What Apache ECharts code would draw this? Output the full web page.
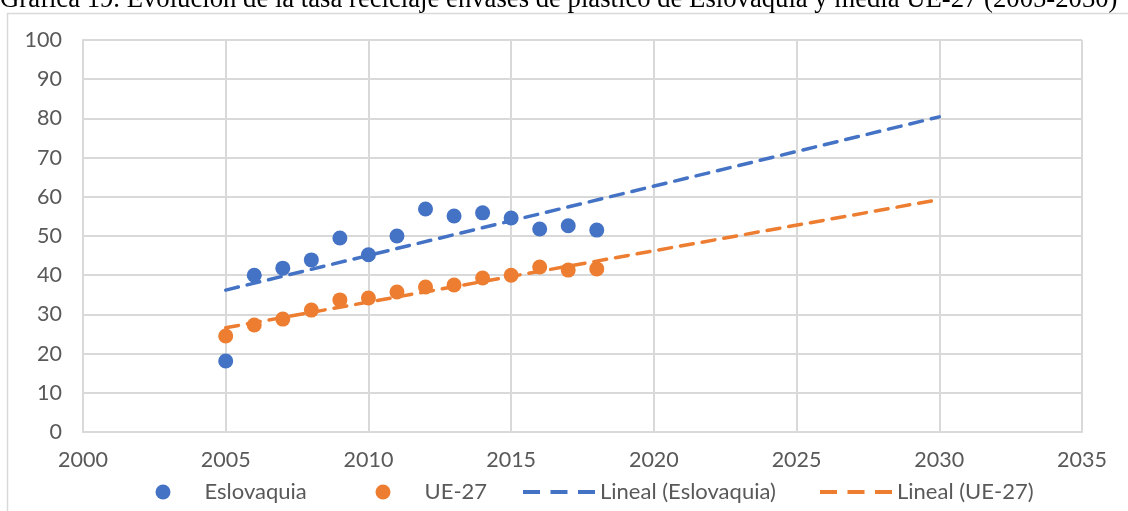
<!DOCTYPE html>
<html>
<head>
<meta charset="utf-8">
<script src="https://cdn.jsdelivr.net/npm/echarts@6/dist/echarts.min.js"></script>
<style>
  body, html { margin: 0; padding: 0; width: 100%; height: 100%; overflow: hidden; background: #fff; }
  #chart { width: 1128px; height: 511px; }
</style>
</head>
<body>
<div id="chart"></div>
<script>
// values
var years = [2005, 2006, 2007, 2008, 2009, 2010, 2011, 2012, 2013, 2014, 2015, 2016, 2017, 2018];
var eslovaquia = [18.1, 40.0, 41.8, 43.9, 49.5, 45.2, 50.0, 56.9, 55.1, 55.9, 54.6, 51.8, 52.6, 51.5];
var ue27 = [24.5, 27.3, 28.8, 31.1, 33.7, 34.2, 35.7, 37.0, 37.5, 39.3, 40.0, 42.1, 41.3, 41.6];
// trend line end points (2005 and 2030) as drawn in the picture
var trendYears = [2005, 2030];
var trendEslovaquia = [36.2, 80.4];
var trendUE27 = [26.6, 59.3];

var blue = '#4472C4';
var orange = '#ED7D31';
var grey = '#D9D9D9';
var font = 'Lato, "Open Sans", sans-serif';
// three short dashes for the trend line legend icon
var dashIcon = 'path://M0,0h17v4h-17z M27.5,0h17v4h-17z M55,0h17v4h-17z';

function pairs(xs, ys) {
  return xs.map(function (x, i) { return [x, ys[i]]; });
}

// one legend per entry so each can sit where Excel put it
function legendItem(name, icon, left, w, textPad) {
  return {
    top: 481, left: left, padding: 0, itemGap: 0,
    itemWidth: w, itemHeight: 15,
    textStyle: { color: '#595959', fontSize: 22, fontFamily: font, padding: [0, 0, 0, textPad] },
    data: [{ name: name, icon: icon }]
  };
}

var chart = echarts.init(document.getElementById('chart'));
chart.setOption({
  animation: false,
  graphic: [
    {
      type: 'rect', silent: true,
      shape: { x: 7.5, y: 13.5, width: 1140, height: 520 },
      style: { fill: 'none', stroke: grey, lineWidth: 1.5 }
    },
    {
      type: 'text', silent: true, x: 0, y: 0,
      style: {
        text: 'Gráfica 19. Evolución de la tasa reciclaje envases de plástico de Eslovaquia y media UE-27 (2005-2030)',
        font: '26.7px "Liberation Serif", "Times New Roman", serif',
        fill: '#000', verticalAlign: 'middle'
      }
    }
  ],
  grid: { left: 83, right: 46, top: 40, bottom: 79 },
  xAxis: {
    type: 'value', min: 2000, max: 2035, interval: 5,
    axisLine: { show: true, onZero: false, lineStyle: { color: grey, width: 2 } },
    axisTick: { show: false },
    axisLabel: {
      color: '#595959', fontSize: 21.5, fontFamily: font, margin: 17,
      formatter: function (v) { return String(v); }
    },
    splitLine: { show: true, lineStyle: { color: grey, width: 2 } }
  },
  yAxis: {
    type: 'value', min: 0, max: 100, interval: 10,
    axisLine: { show: true, lineStyle: { color: grey, width: 2 } },
    axisTick: { show: false },
    axisLabel: { color: '#595959', fontSize: 21.5, fontFamily: font, margin: 21 },
    splitLine: { show: true, lineStyle: { color: grey, width: 2 } }
  },
  legend: [
    legendItem('Eslovaquia', 'circle', 155.5, 15, 29),
    legendItem('UE-27', 'circle', 375.5, 15, 29),
    legendItem('Lineal (Eslovaquia)', dashIcon, 523, 72, 0),
    legendItem('Lineal (UE-27)', dashIcon, 820, 72, 0)
  ],
  series: [
    {
      name: 'Eslovaquia', type: 'scatter', symbol: 'circle', symbolSize: 15,
      itemStyle: { color: blue, opacity: 1 },
      data: pairs(years, eslovaquia), z: 3
    },
    {
      name: 'UE-27', type: 'scatter', symbol: 'circle', symbolSize: 15,
      itemStyle: { color: orange, opacity: 1 },
      data: pairs(years, ue27), z: 3
    },
    {
      name: 'Lineal (Eslovaquia)', type: 'line', showSymbol: false, symbol: 'none',
      itemStyle: { color: blue },
      lineStyle: { color: blue, width: 3.5, type: [13, 9], cap: 'round' },
      data: pairs(trendYears, trendEslovaquia), z: 4
    },
    {
      name: 'Lineal (UE-27)', type: 'line', showSymbol: false, symbol: 'none',
      itemStyle: { color: orange },
      lineStyle: { color: orange, width: 3.5, type: [13, 9], cap: 'round' },
      data: pairs(trendYears, trendUE27), z: 4
    }
  ]
});
</script>
</body>
</html>
